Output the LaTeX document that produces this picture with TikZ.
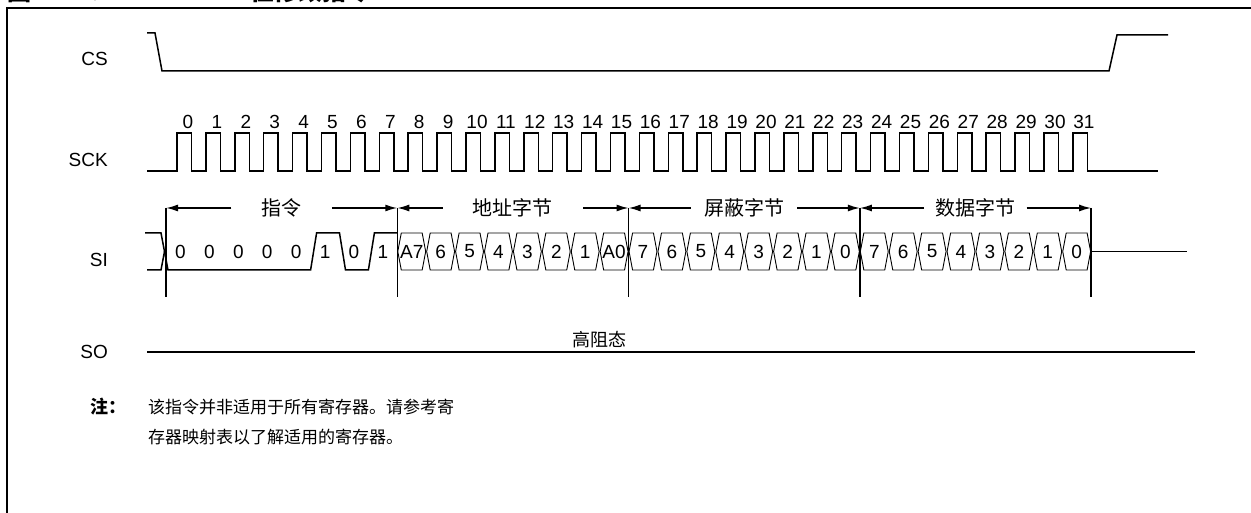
\documentclass[tikz,border=0pt]{standalone}
\usepackage{fontspec}
\setmainfont{Liberation Sans}
\newfontfamily\cjk{Noto Sans CJK SC}
\usetikzlibrary{arrows.meta}
\tikzset{
  wave/.style={line width=1.5pt},
  cell/.style={line width=0.9pt},
  sig/.style={anchor=east,inner sep=0pt,font=\fontsize{19}{22}\selectfont},
  bitno/.style={inner sep=0pt,font=\fontsize{19}{22}\selectfont},
  bytelabel/.style={inner sep=0pt,inner xsep=#1,font=\cjk\fontsize{20}{24}\selectfont},
  span/.style={line width=1.5pt,-{Latex[length=12pt,width=7pt]}}
}

\begin{document}
\begin{tikzpicture}[x=1pt,y=-1pt]
  \useasboundingbox (0,0) rectangle (1251,513);
  \clip (0,0) rectangle (1251,513);
  \node[anchor=base west,inner sep=0pt,font=\cjk\bfseries\fontsize{24}{26}\selectfont] (title) at (7,1) {图 4-24：};
  \node[anchor=base west,inner sep=0pt,font=\cjk\bfseries\fontsize{24}{26}\selectfont] (caption) at (250,1) {位修改指令};
  \draw[line width=2pt] (7,8) rectangle (1262,530);

  \node[sig] (cs) at (108,59) {CS};
  \node[sig] (sck) at (108,160) {SCK};
  \node[sig] (si) at (108,260) {SI};
  \node[sig] (so) at (108,352) {SO};

  \draw[wave] (147,33) -- (155,33) -- (162,71) -- (1109,71) -- (1117,35) -- (1168,35);

  \draw[wave] (147,171) foreach \k in {0,...,31} { -- ({177+28.9*\k},171) -- ++(0,-38) -- ++(14.5,0) -- ++(0,38) } -- (1158,171);
  \foreach \k in {0,...,31}
    \node[bitno] (n\k) at ({188+28.9*\k},122) {\k};

  \draw[wave] (145,233) -- (161,233) -- (168,270) -- (310.6,270) -- (316.6,233) -- (339.5,233) -- (345.5,270) -- (368.4,270) -- (374.4,233) -- (397,233);
  \draw[wave] (147,270) -- (161,270) -- (164.5,251.5);
  \foreach \v [count=\i from 0] in {0,0,0,0,0,1,0,1}
    \node[bitno] (b\i) at ({180.5+28.91*\i},251.5) {\v};
  \foreach \v [count=\j from 8] in {A7,6,5,4,3,2,1,A0,7,6,5,4,3,2,1,0,7,6,5,4,3,2,1,0} {
    \pgfmathsetmacro\bx{166+28.91*\j}
    \draw[cell] (\bx+0.5,251.5) -- (\bx+4,233) -- (\bx+24.9,233) -- (\bx+28.4,251.5) -- (\bx+24.9,270) -- (\bx+4,270) -- cycle;
    \node[bitno] (c\j) at (\bx+14.45,251.5) {\v};
  }

  \foreach \i in {0,...,4} {
    \coordinate (mk\i) at ({166+231.28*\i},208);
    \draw[wave] (mk\i) -- ++(0,89);
  }
  \foreach \t/\g [count=\i from 0] in {指令/30pt,地址字节/30pt,屏蔽字节/13pt,数据字节/11pt} {
    \pgfmathtruncatemacro\n{\i+1}
    \node[bytelabel=\g] (lbl\i) at ({281.6+231.28*\i},208) {\t};
    \draw[span] (lbl\i.west) -- (mk\i);
    \draw[span] (lbl\i.east) -- (mk\n);
  }
  \coordinate (sitail) at (1187,251.5);
  \draw[wave] (mk4 |- sitail) -- (sitail);

  \coordinate (sostart) at (147,352);
  \coordinate (soend) at (1195,352);
  \draw[line width=2pt] (sostart) -- (soend);
  \node[font=\cjk\fontsize{18}{20}\selectfont] (hiz) at (599,340) {高阻态};

  \node[anchor=north west,inner sep=0pt,font=\cjk\bfseries\fontsize{18}{20}\selectfont] (note) at (90,398) {注：};
  \node[anchor=north west,inner sep=0pt,align=left,font=\cjk\fontsize{17}{30}\selectfont] (notetext) at (148,399) {该指令并非适用于所有寄存器。请参考寄\\存器映射表以了解适用的寄存器。};
\end{tikzpicture}
\end{document}
